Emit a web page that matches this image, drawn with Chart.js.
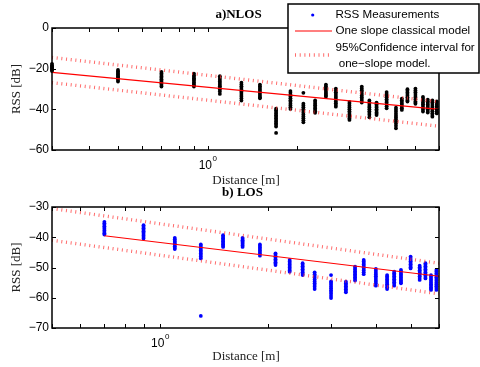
<!DOCTYPE html>
<html>
<head>
<meta charset="utf-8">
<script src="https://cdn.jsdelivr.net/npm/chart.js@4/dist/chart.umd.min.js"></script>
<style>
  html, body { margin: 0; padding: 0; background: #fff; }
  #wrap { position: relative; width: 480px; height: 367px; overflow: hidden; background: #fff; }
  #wrap canvas { position: absolute; left: 0; top: 0; }
</style>
</head>
<body>
<div id="wrap">
  <canvas id="los" width="480" height="367"></canvas>
  <canvas id="nlos" width="480" height="367"></canvas>
</div>
<script>
// ---- NLOS measurements (distance in m, RSS in dB) ----
const nlosDistances = [0.3, 0.5, 0.7, 0.9, 1.1, 1.3, 1.5, 1.7, 1.9, 2.1, 2.3, 2.5, 2.7,
                       3.0, 3.3, 3.5, 3.7, 4.0, 4.3, 4.5, 4.7, 5.0, 5.3, 5.5, 5.7, 5.9];
const nlosRss = [
  [-17.6, -18.3, -18.9, -19.4, -19.8, -20.3, -20.7, -21.2],
  [-20.6, -21.3, -22.0, -22.6, -23.1, -23.7, -24.2, -24.9, -25.5, -26.3],
  [-21.6, -22.4, -23.1, -23.9, -24.5, -25.2, -25.9, -26.5, -27.3, -28.0, -28.8],
  [-22.4, -23.2, -24.0, -24.7, -25.3, -26.0, -26.8, -27.5, -28.2, -28.8],
  [-23.7, -24.6, -25.4, -26.3, -27.1, -27.9, -28.6, -29.5, -30.3, -31.2, -32.4],
  [-26.9, -27.8, -28.7, -29.5, -30.4, -31.2, -32.0, -32.9, -33.8, -34.7, -35.7],
  [-27.8, -28.6, -29.4, -30.2, -31.0, -31.7, -32.5, -33.3, -34.0, -34.6],
  [-39.7, -40.5, -41.3, -42.1, -42.9, -43.6, -44.4, -45.2, -46.0, -46.8, -47.6, -48.5, -51.6],
  [-31.0, -31.9, -32.8, -33.7, -34.6, -35.5, -36.3, -37.2, -38.1, -39.0, -39.8],
  [-31.9, -37.2, -38.1, -39.0, -39.9, -40.8, -41.7, -42.6, -43.5, -44.4, -45.4, -46.4],
  [-35.6, -36.4, -37.2, -38.0, -38.8, -39.6, -40.3, -41.0, -41.7],
  [-27.8, -28.6, -29.4, -30.2, -31.0, -31.8, -32.5, -33.2, -33.8],
  [-29.8, -30.7, -31.6, -32.5, -33.4, -34.3, -35.2, -36.1, -37.0, -37.9, -38.7],
  [-36.4, -37.3, -38.2, -39.1, -40.0, -40.9, -41.8, -42.7, -43.6, -44.5, -45.2],
  [-28.8, -29.7, -30.6, -31.4, -32.3, -33.2, -34.0, -34.9, -35.8, -36.7],
  [-35.6, -36.5, -37.4, -38.3, -39.1, -40.0, -40.9, -41.8, -42.7, -43.9],
  [-36.7, -37.5, -38.3, -39.1, -39.9, -40.7, -41.5, -42.2, -42.8],
  [-31.5, -32.4, -33.3, -34.1, -35.0, -35.9, -36.7, -37.6, -38.5, -39.5],
  [-39.2, -40.2, -41.2, -42.2, -43.1, -44.0, -45.0, -46.0, -47.0, -48.1, -49.3],
  [-34.7, -35.5, -36.3, -37.1, -37.9, -38.7, -39.5, -40.3],
  [-30.1, -30.9, -31.7, -32.5, -33.3, -34.1, -34.9, -35.6, -36.2],
  [-29.8, -30.7, -31.6, -32.5, -33.4, -34.3, -35.2, -36.1, -36.8, -37.3],
  [-33.9, -34.8, -35.7, -36.6, -37.5, -38.4, -39.3, -40.2, -41.1],
  [-35.2, -36.0, -36.8, -37.6, -38.4, -39.2, -40.0, -40.8, -41.6],
  [-35.6, -36.5, -37.4, -38.3, -39.2, -40.1, -41.0, -41.9, -42.8, -43.6],
  [-36.1, -36.9, -37.7, -38.5, -39.3, -40.1, -40.9, -41.6, -42.0]
];

// ---- LOS measurements ----
const losDistances = [0.7, 0.9, 1.1, 1.3, 1.5, 1.7, 1.9, 2.1, 2.3, 2.5, 2.7, 3.0,
                      3.3, 3.5, 3.7, 4.0, 4.3, 4.5, 4.7, 5.0, 5.3, 5.5, 5.7, 5.9];
const losRss = [
  [-34.9, -35.4, -35.9, -36.4, -36.9, -37.3, -37.8, -38.3, -38.7, -39.1],
  [-36.0, -36.5, -37.0, -37.5, -38.0, -38.4, -38.9, -39.4, -39.9, -40.4],
  [-40.2, -40.7, -41.2, -41.6, -42.1, -42.5, -43.0, -43.5, -43.9],
  [-42.4, -42.9, -43.4, -43.9, -44.4, -44.9, -45.4, -45.9, -46.4, -47.0, -66.0],
  [-39.3, -39.8, -40.3, -40.8, -41.3, -41.8, -42.3, -42.8, -43.2],
  [-40.2, -40.6, -41.0, -41.4, -41.8, -42.2, -42.7, -43.2],
  [-42.4, -42.9, -43.4, -43.9, -44.4, -44.9, -45.4, -46.1],
  [-45.3, -45.8, -46.3, -46.8, -47.3, -47.8, -48.3, -48.7, -49.2],
  [-47.5, -48.0, -48.5, -49.0, -49.5, -50.0, -50.5, -51.0, -51.4],
  [-48.6, -49.1, -49.6, -50.1, -50.6, -51.1, -51.6, -52.1, -52.5],
  [-51.6, -52.2, -52.8, -53.4, -54.0, -54.6, -55.2, -55.8, -56.4, -57.1],
  [-52.5, -54.6, -55.1, -55.7, -56.3, -56.9, -57.5, -58.1, -58.7, -59.4, -60.1],
  [-54.7, -55.2, -55.7, -56.2, -56.7, -57.2, -57.7, -58.2],
  [-49.7, -50.2, -50.7, -51.2, -51.7, -52.2, -52.7, -53.2, -53.7, -54.3],
  [-47.5, -48.0, -48.5, -49.0, -49.5, -50.0, -50.5, -51.0, -51.6, -52.2],
  [-50.5, -51.1, -51.7, -52.3, -52.9, -53.5, -54.1, -54.7, -55.3, -56.0],
  [-52.5, -53.0, -53.5, -54.0, -54.5, -55.0, -55.5, -56.0, -56.5, -57.1],
  [-51.4, -51.9, -52.4, -52.9, -53.4, -53.9, -54.4, -54.9, -55.4, -56.0],
  [-50.8, -51.3, -51.8, -52.3, -52.8, -53.3, -53.8, -54.3, -54.8, -55.2],
  [-46.4, -46.9, -47.4, -47.9, -48.4, -48.9, -49.4, -49.9, -50.3],
  [-49.4, -49.9, -50.4, -50.9, -51.4, -51.9, -52.4, -52.9, -53.5, -54.1],
  [-48.6, -49.1, -49.6, -50.1, -50.6, -51.1, -51.6, -52.1, -52.6, -53.1, -53.6],
  [-52.5, -53.0, -53.5, -54.0, -54.5, -55.0, -55.5, -56.0, -56.5, -57.0, -57.4],
  [-50.8, -51.4, -52.0, -52.6, -53.2, -53.8, -54.4, -55.0, -55.6, -56.2, -56.8, -57.4]
];

// ---- one-slope model and its 95% confidence bounds (end points) ----
const nlosModelDistances = [0.3, 6];
const nlosModel = [-21.8, -40.0];
const nlosUpper = [-14.5, -36.3];
const nlosLower = [-26.9, -48.3];

const losModelDistances = [0.7, 6];
const losModel = [-39.5, -52.9];
const losBoundDistances = [0.5, 6];
const losUpper = [-30.5, -48.6];
const losLower = [-41.0, -58.7];

// ---- axis ticks ----
const nlosYTicks = [0, -20, -40, -60];
const losYTicks = [-30, -40, -50, -60, -70];
const nlosXTicks = [0.3, 0.4, 0.5, 0.6, 0.7, 0.8, 0.9, 1, 2, 3, 4, 5, 6];
const losXTicks = [0.5, 0.6, 0.7, 0.8, 0.9, 1, 2, 3, 4, 5, 6];
const xLabelledTick = 1;           // drawn as 10^0

const legendLabels = ['RSS Measurements', 'One slope classical model',
                      '95%Confidence interval for', ' one\u2212slope model.'];

const SANS = '"Liberation Sans", Arial, sans-serif';
const SERIF = '"Liberation Serif", "Times New Roman", serif';
const DOT_RED = 'rgba(255,50,50,0.72)';

const toPoints = (xs, ys) => xs.map((x, i) => ({ x, y: ys[i] }));
const clusterPoints = (ds, rss) => ds.flatMap((d, i) => rss[i].map(v => ({ x: d, y: v })));
const minus = v => String(v).replace('-', '\u2212');

function datasets(points, markerColor, modelX, modelY, boundX, upper, lower) {
  const bound = {
    showLine: true, borderColor: DOT_RED, borderWidth: 3.4, borderDash: [1, 3.7],
    pointRadius: 0, fill: false, order: 1
  };
  return [
    { label: legendLabels[0], data: points, backgroundColor: markerColor, borderColor: markerColor,
      pointRadius: 1.9, pointBorderWidth: 0, order: 2, clip: false },
    { label: legendLabels[1], data: toPoints(modelX, modelY), showLine: true,
      borderColor: '#ff0000', borderWidth: 1.2, pointRadius: 0, order: 0 },
    Object.assign({ label: legendLabels[2], data: toPoints(boundX, upper) }, bound),
    Object.assign({ label: legendLabels[2], data: toPoints(boundX, lower) }, bound)
  ];
}

// box, inward tick marks, 10^0 label, axis titles and panel title
function framePlugin(cfg) {
  return {
    id: 'frame',
    afterDraw(chart) {
      const { ctx, chartArea: a, scales: { x, y } } = chart;
      ctx.save();
      ctx.strokeStyle = '#000';
      ctx.lineWidth = 1;
      ctx.beginPath();
      cfg.xTicks.forEach(v => {
        const px = Math.round(x.getPixelForValue(v)) + 0.5;
        ctx.moveTo(px, a.bottom); ctx.lineTo(px, a.bottom - 4);
        ctx.moveTo(px, a.top); ctx.lineTo(px, a.top + 4);
      });
      cfg.yTicks.forEach(v => {
        const py = Math.round(y.getPixelForValue(v)) + 0.5;
        ctx.moveTo(a.left, py); ctx.lineTo(a.left + 4, py);
        ctx.moveTo(a.right, py); ctx.lineTo(a.right - 4, py);
      });
      ctx.stroke();
      ctx.lineWidth = 1.5;
      ctx.strokeRect(a.left, a.top, a.right - a.left, a.bottom - a.top);

      // 10^0 tick label
      ctx.fillStyle = '#000';
      ctx.textBaseline = 'middle';
      ctx.textAlign = 'left';
      ctx.font = '12px ' + SANS;
      const wBase = ctx.measureText('10').width;
      ctx.font = '8px ' + SANS;
      const wExp = ctx.measureText('0').width;
      const tx = x.getPixelForValue(xLabelledTick) - (wBase + wExp) / 2;
      ctx.font = '12px ' + SANS;
      ctx.fillText('10', tx, a.bottom + 15.5);
      ctx.font = '8px ' + SANS;
      ctx.fillText('0', tx + wBase + 0.5, a.bottom + 9);

      // axis titles
      ctx.textAlign = 'center';
      ctx.font = '13px ' + SERIF;
      ctx.fillStyle = '#222';
      ctx.fillText('Distance [m]', 246, cfg.xTitleY);
      ctx.save();
      ctx.translate(16.5, (a.top + a.bottom) / 2);
      ctx.rotate(-Math.PI / 2);
      ctx.fillText('RSS [dB]', 0, 0);
      ctx.restore();

      // panel title
      ctx.fillStyle = '#000';
      ctx.font = 'bold 13px ' + SERIF;
      ctx.fillText(cfg.title, cfg.titleX, cfg.titleY);

      if (cfg.legend) drawLegend(chart);
      ctx.restore();
    }
  };
}

function drawLegend(chart) {
  const ctx = chart.ctx;
  const ds = chart.data.datasets;
  const bx = 288, by = 4, bw = 191, bh = 69;
  ctx.save();
  ctx.fillStyle = '#fff';
  ctx.fillRect(bx, by, bw, bh);
  ctx.strokeStyle = '#000';
  ctx.lineWidth = 1.5;
  ctx.strokeRect(bx, by, bw, bh);

  // sample marks
  ctx.fillStyle = '#0000ff';
  ctx.beginPath();
  ctx.arc(312.7, 15, 1.6, 0, Math.PI * 2);
  ctx.fill();

  ctx.strokeStyle = ds[1].borderColor;
  ctx.lineWidth = ds[1].borderWidth;
  ctx.beginPath();
  ctx.moveTo(295, 31); ctx.lineTo(332, 31);
  ctx.stroke();

  ctx.strokeStyle = ds[2].borderColor;
  ctx.lineWidth = ds[2].borderWidth;
  ctx.setLineDash(ds[2].borderDash);
  ctx.beginPath();
  ctx.moveTo(295, 55); ctx.lineTo(332, 55);
  ctx.stroke();
  ctx.setLineDash([]);

  ctx.fillStyle = '#000';
  ctx.font = '11.6px ' + SANS;
  ctx.textAlign = 'left';
  ctx.textBaseline = 'middle';
  ctx.fillText(legendLabels[0], 335.5, 15);
  ctx.fillText(legendLabels[1], 335.5, 31);
  ctx.fillText(legendLabels[2], 335.5, 48);
  ctx.fillText(legendLabels[3], 335.5, 64);
  ctx.restore();
}

function makeChart(id, opt) {
  return new Chart(document.getElementById(id), {
    type: 'scatter',
    data: { datasets: opt.datasets },
    options: {
      responsive: false,
      animation: false,
      events: [],
      devicePixelRatio: 1,
      layout: { padding: opt.padding },
      plugins: { legend: { display: false }, tooltip: { enabled: false }, title: { display: false } },
      scales: {
        x: {
          type: 'logarithmic', min: opt.xMin, max: opt.xMax,
          grid: { display: false, drawTicks: false },
          border: { display: false },
          ticks: { display: false },
          afterFit(s) { s.height = 10; }
        },
        y: {
          min: opt.yMin, max: opt.yMax,
          grid: { display: false, drawTicks: false },
          border: { display: false },
          afterBuildTicks(s) { s.ticks = opt.yTicks.map(v => ({ value: v })); },
          ticks: {
            color: '#000', padding: 3,
            font: { family: SANS, size: 12 },
            callback: v => minus(v)
          },
          afterFit(s) { s.width = 52; }
        }
      }
    },
    plugins: [framePlugin(opt.frame)]
  });
}

// a) NLOS panel
makeChart('nlos', {
  datasets: datasets(clusterPoints(nlosDistances, nlosRss), '#000000',
                     nlosModelDistances, nlosModel, nlosModelDistances, nlosUpper, nlosLower),
  padding: { left: 0, right: 41, top: 28, bottom: 207 },
  xMin: 0.3, xMax: 6, yMin: -60, yMax: 0, yTicks: nlosYTicks,
  frame: { xTicks: nlosXTicks, yTicks: nlosYTicks, title: 'a)NLOS', titleX: 238.5, titleY: 15,
           xTitleY: 181, legend: true }
});

// b) LOS panel
makeChart('los', {
  datasets: datasets(clusterPoints(losDistances, losRss), '#0000ff',
                     losModelDistances, losModel, losBoundDistances, losUpper, losLower),
  padding: { left: 0, right: 41, top: 207, bottom: 29 },
  xMin: 0.5, xMax: 6, yMin: -70, yMax: -30, yTicks: losYTicks,
  frame: { xTicks: losXTicks, yTicks: losYTicks, title: 'b) LOS', titleX: 242.5, titleY: 193,
           xTitleY: 357, legend: false }
});
</script>
</body>
</html>
